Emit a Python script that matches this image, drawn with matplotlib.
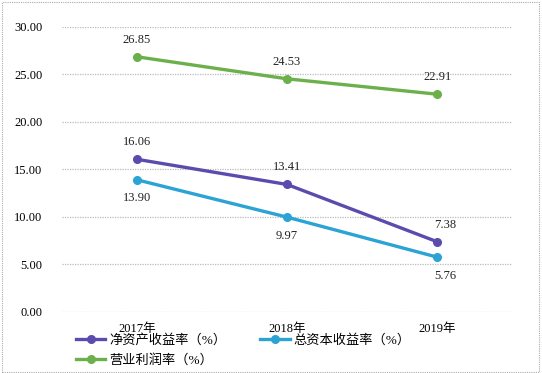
import matplotlib
matplotlib.use("Agg")
import matplotlib.pyplot as plt
from matplotlib.patches import Rectangle

plt.rcParams['font.family'] = ['Liberation Serif', 'Noto Sans CJK SC']

# === DADOS ===
anos = ["2017年", "2018年", "2019年"]
roe = [16.06, 13.41, 7.38]          # 净资产收益率
roa = [13.90, 9.97, 5.76]           # 总资本收益率
margem = [26.85, 24.53, 22.91]      # 营业利润率
nomes = ["净资产收益率（%）", "总资本收益率（%）", "营业利润率（%）"]
yticks = [0, 5, 10, 15, 20, 25, 30]

cores = ["#5a4cae", "#2ba3d4", "#6cb04c"]

fig = plt.figure(figsize=(5.42, 3.73), dpi=100)
ax = fig.add_axes([0.114, 0.164, 0.831, 0.764])

x = list(range(len(anos)))
series = [roe, roa, margem]
linhas = []
for vals, cor, nome in zip(series, cores, nomes):
    l, = ax.plot(x, vals, color=cor, lw=2.4, marker="o", markersize=5.5, label=nome)
    linhas.append(l)

# rótulos dos valores
for i, v in enumerate(margem):
    ax.annotate(f"{v:.2f}", (i, v), xytext=(0, 8), textcoords="offset points",
                ha="center", va="bottom", fontsize=9, color="#222222")
for i, v in enumerate(roe):
    dx = 6 if i == 2 else 0
    ax.annotate(f"{v:.2f}", (i, v), xytext=(dx, 8), textcoords="offset points",
                ha="center", va="bottom", fontsize=9, color="#222222")
for i, v in enumerate(roa):
    dx = 6 if i == 2 else 0
    ax.annotate(f"{v:.2f}", (i, v), xytext=(dx, -9), textcoords="offset points",
                ha="center", va="top", fontsize=9, color="#222222")

ax.set_xlim(-0.5, 2.5)
ax.set_ylim(0, 30)
ax.set_yticks(yticks)
ax.set_yticklabels([f"{t:.2f}" for t in yticks], fontsize=9)
ax.set_xticks(x)
ax.set_xticklabels(anos, fontsize=9)
ax.tick_params(length=0, pad=8)
ax.tick_params(axis="y", pad=14)
ax.grid(axis="y", color="#bbbbbb", linestyle=(0, (1, 1)), lw=0.9)
for s in ax.spines.values():
    s.set_visible(False)

# ordem por linha: 净资产, 总资本 / 营业
ordem = [linhas[0], linhas[2], linhas[1]]
ax.legend(ordem, [l.get_label() for l in ordem], loc="upper left",
          bbox_to_anchor=(0.02, -0.06), ncol=2, frameon=False,
          fontsize=9.5, handlelength=2.2, columnspacing=2.6, labelspacing=0.5,
          borderaxespad=0, handletextpad=0.3)

# moldura pontilhada
fig.patches.append(Rectangle((0.004, 0.004), 0.99, 0.99, transform=fig.transFigure,
                             fill=False, ec="#aaaaaa", lw=0.8, linestyle=(0, (1, 1))))

fig.savefig("out.png", dpi=100)
